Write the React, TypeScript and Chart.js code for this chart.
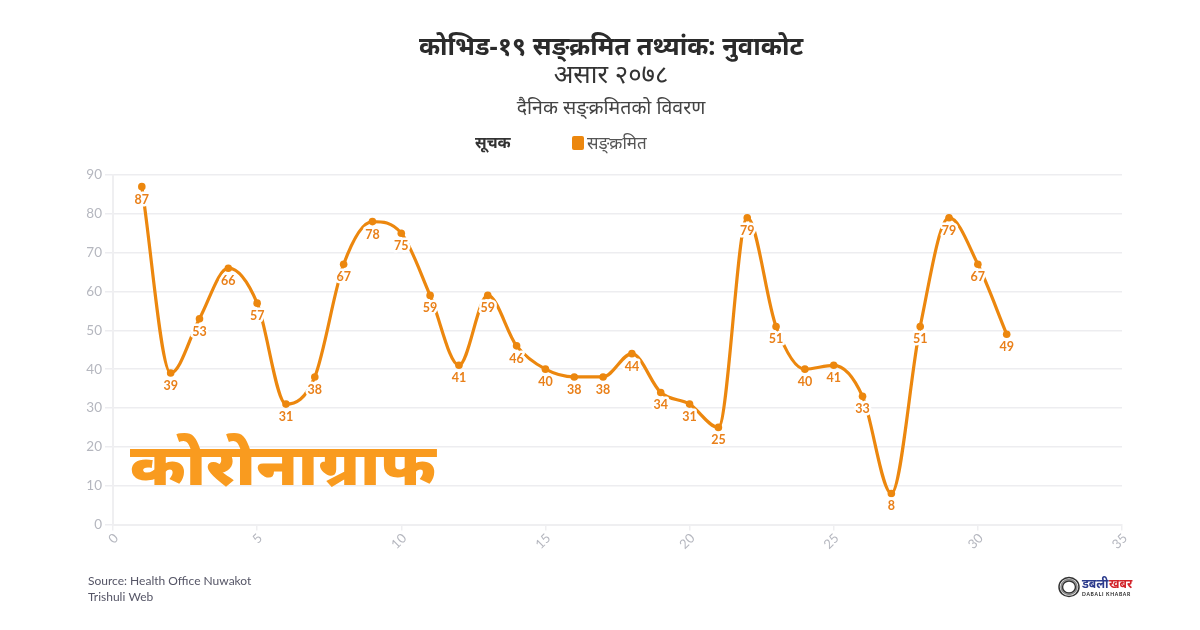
import React, { useEffect, useRef } from 'react';
import { Chart, registerables } from 'chart.js';

Chart.register(...registerables);

const days = [1, 2, 3, 4, 5, 6, 7, 8, 9, 10, 11, 12, 13, 14, 15, 16, 17, 18, 19, 20, 21, 22, 23, 24, 25, 26, 27, 28, 29, 30, 31];
const infected = [87, 39, 53, 66, 57, 31, 38, 67, 78, 75, 59, 41, 59, 46, 40, 38, 38, 44, 34, 31, 25, 79, 51, 40, 41, 33, 8, 51, 79, 67, 49];

const titleText = 'कोभिड-१९ सङ्क्रमित तथ्यांक: नुवाकोट';
const subtitleText = 'असार २०७८';
const descText = 'दैनिक सङ्क्रमितको विवरण';
const legendTitle = 'सूचक';
const seriesName = 'सङ्क्रमित';
const watermark = 'कोरोनाग्राफ';
const sourceLines = ['Source: Health Office Nuwakot', 'Trishuli Web'];

const ORANGE = '#EC870E';
const DEVA = '"Noto Sans", "Noto Sans Devanagari", "Lato", sans-serif';
const LATIN = 'Lato, "Open Sans", sans-serif';

// value labels under each point, with a white halo like the original
const pointLabels = {
  id: 'pointLabels',
  afterDatasetsDraw(chart: Chart) {
    const ctx = chart.ctx;
    const meta = chart.getDatasetMeta(0);
    ctx.save();
    ctx.font = `bold 12.5px ${LATIN}`;
    ctx.textAlign = 'center';
    ctx.textBaseline = 'middle';
    ctx.lineJoin = 'round';
    meta.data.forEach((pt: any, i: number) => {
      const y = pt.y + 13;
      ctx.lineWidth = 5;
      ctx.strokeStyle = '#ffffff';
      ctx.strokeText(String(infected[i]), pt.x, y);
      ctx.fillStyle = '#E9801A';
      ctx.fillText(String(infected[i]), pt.x, y);
    });
    ctx.restore();
  },
};

// big wordmark, source lines, and the small logo
const canvasText = {
  id: 'canvasText',
  afterDraw(chart: Chart) {
    const ctx = chart.ctx as any;
    ctx.save();
    ctx.textBaseline = 'alphabetic';
    ctx.textAlign = 'left';

    ctx.save();
    ctx.translate(130, 484.5);
    ctx.scale(1.105, 1);
    ctx.font = `900 58px ${DEVA}`;
    ctx.fillStyle = '#F99B1F';
    ctx.fillText(watermark, 0, 0);
    ctx.restore();

    ctx.font = `12px ${LATIN}`;
    ctx.fillStyle = '#555566';
    ctx.fillText(sourceLines[0], 88, 585);
    ctx.fillText(sourceLines[1], 88, 601);

    ctx.lineWidth = 1.5;
    [
      [9.5, '#333333'],
      [7.5, '#888888'],
      [6, '#333333'],
    ].forEach(([r, col]) => {
      ctx.strokeStyle = col as string;
      ctx.beginPath();
      ctx.ellipse(1069, 587, (r as number) + 0.5, r as number, 0, 0, Math.PI * 2);
      ctx.stroke();
    });
    ctx.font = `bold 12px ${DEVA}`;
    ctx.fillStyle = '#2B3A8C';
    ctx.fillText('डबली', 1082, 588);
    ctx.fillStyle = '#D2232A';
    ctx.fillText('खबर', 1109, 588);
    ctx.font = `bold 5px ${LATIN}`;
    ctx.letterSpacing = '0.7px';
    ctx.fillStyle = '#222222';
    ctx.fillText('DABALI KHABAR', 1082, 595.5);
    ctx.restore();
  },
};

const App: React.FC = () => {
  const canvasRef = useRef<HTMLCanvasElement>(null);

  useEffect(() => {
    document.body.style.margin = '0';
    if (!canvasRef.current) return;
    const chart = new Chart(canvasRef.current, {
      type: 'line',
      data: {
        datasets: [
          {
            label: seriesName,
            data: days.map((d, i) => ({ x: d, y: infected[i] })),
            borderColor: ORANGE,
            backgroundColor: ORANGE,
            borderWidth: 3.2,
            pointRadius: 3.8,
            pointBorderWidth: 0,
            pointHoverRadius: 3.8,
            cubicInterpolationMode: 'monotone',
          },
        ],
      },
      options: {
        responsive: false,
        animation: false,
        layout: { padding: { left: 0, right: 78, top: 175, bottom: 0 } },
        plugins: { legend: { display: false }, title: { display: false }, tooltip: { enabled: false } },
        scales: {
          x: {
            type: 'linear',
            min: 0,
            max: 35,
            afterFit: (s: any) => {
              s.height = 105.5;
            },
            grid: { drawOnChartArea: false, drawTicks: true, tickLength: 6, color: '#EFEFF1', lineWidth: 1.5 },
            border: { color: '#EFEFF1', width: 2 },
            ticks: {
              stepSize: 5,
              minRotation: 45,
              maxRotation: 45,
              labelOffset: 3,
              padding: 0,
              color: '#B5B7BF',
              font: { family: LATIN, size: 13 },
            },
          },
          y: {
            min: 0,
            max: 90,
            afterFit: (s: any) => {
              s.width = 113;
            },
            grid: { color: '#EDEDF0', lineWidth: 1.5, tickLength: 8 },
            border: { color: '#EFEFF1', width: 2 },
            ticks: {
              stepSize: 10,
              color: '#B5B7BF',
              padding: 3,
              font: { family: LATIN, size: 13.5 },
            },
          },
        },
      },
      plugins: [pointLabels, canvasText],
    });
    return () => chart.destroy();
  }, []);

  const center: React.CSSProperties = {
    position: 'absolute',
    left: 0,
    width: 1222,
    textAlign: 'center',
    fontFamily: DEVA,
    whiteSpace: 'nowrap',
    lineHeight: 1,
  };

  return (
    <div style={{ position: 'relative', width: 1200, height: 630, background: '#fff', overflow: 'hidden' }}>
      <canvas ref={canvasRef} width={1200} height={630} style={{ display: 'block' }} />
      <div style={{ ...center, top: 33, fontSize: 25.5, fontWeight: 700, color: '#2B2B2B' }}>{titleText}</div>
      <div style={{ ...center, top: 61, fontSize: 25.8, color: '#333333' }}>{subtitleText}</div>
      <div style={{ ...center, top: 97, fontSize: 19.5, color: '#444444' }}>{descText}</div>
      <div style={{ position: 'absolute', left: 475, top: 135, fontFamily: DEVA, fontSize: 15.8, fontWeight: 700, color: '#333', lineHeight: 1 }}>
        {legendTitle}
      </div>
      <div style={{ position: 'absolute', left: 572, top: 136, width: 12, height: 14, borderRadius: 2, background: ORANGE }} />
      <div style={{ position: 'absolute', left: 587, top: 134, fontFamily: DEVA, fontSize: 17, color: '#555', lineHeight: 1 }}>
        {seriesName}
      </div>
    </div>
  );
};

export default App;
